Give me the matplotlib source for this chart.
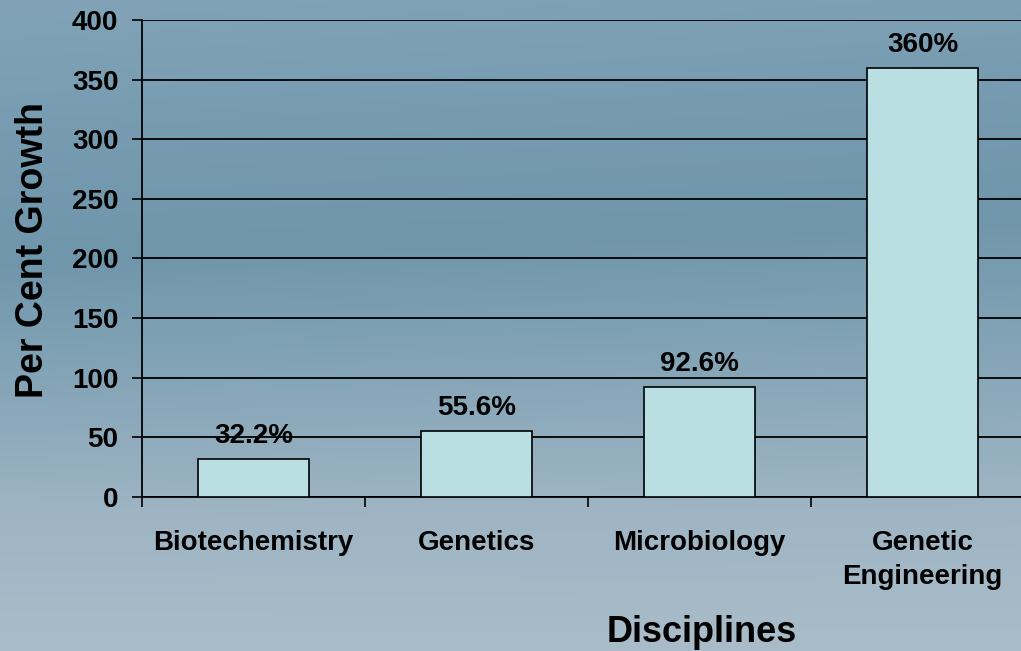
import matplotlib.pyplot as plt
import numpy as np
from matplotlib.colors import LinearSegmentedColormap

disciplines = ["Biotechemistry", "Genetics", "Microbiology", "Genetic\nEngineering"]
growth = [32.2, 55.6, 92.6, 360]
value_labels = ["32.2%", "55.6%", "92.6%", "360%"]

plt.rcParams["font.family"] = ["Liberation Sans", "DejaVu Sans"]
plt.rcParams["font.weight"] = "bold"

fig = plt.figure(figsize=(10.21, 6.51), dpi=100)

# slide-like background gradient
bg = fig.add_axes([0, 0, 1, 1], zorder=0)
bg.axis("off")
cmap = LinearSegmentedColormap.from_list(
    "slide", ["#a9bcc9", "#9fb5c4", "#86a6b8", "#7096ab", "#779cb1", "#82a3b7"])
yy = np.linspace(0, 1, 300)[:, None]
xx = np.linspace(0, 1, 300)[None, :]
grad = np.clip(yy * 0.9 + 0.1 * (1 - xx) * yy, 0, 1)
bg.imshow(grad, cmap=cmap, aspect="auto", extent=[0, 1, 0, 1], origin="lower")
bg.set_xlim(0, 1)
bg.set_ylim(0, 1)

ax = fig.add_axes([0.1391, 0.2366, 0.8737, 0.7327], zorder=1)
ax.patch.set_alpha(0)

x = np.arange(len(disciplines))
ax.bar(x, growth, width=0.5, color="#b9dfe3", edgecolor="black", linewidth=1.2, zorder=3)
for xi, v, lab in zip(x, growth, value_labels):
    ax.annotate(lab, (xi, v), xytext=(0, 7), textcoords="offset points",
                ha="center", va="bottom", fontsize=20, fontweight="bold")

ax.set_xlim(-0.5, len(disciplines) - 0.5)
ax.set_ylim(0, 400)
ax.set_yticks(np.arange(0, 401, 50))
ax.yaxis.grid(True, color="black", linewidth=1.3, zorder=0)
ax.set_axisbelow(True)

ax.set_xticks(x)
ax.set_xticklabels(disciplines, fontsize=20, fontweight="bold", linespacing=1.4)
ax.set_xticks(np.arange(-0.5, len(disciplines)), minor=True)
ax.tick_params(axis="x", which="major", length=0, pad=24)
ax.tick_params(axis="x", which="minor", length=7, width=1.2, color="black")
ax.tick_params(axis="y", length=7, width=1.2, labelsize=20, pad=10)
for t in ax.get_yticklabels():
    t.set_fontweight("bold")

for s in ["top", "right"]:
    ax.spines[s].set_visible(False)
ax.spines["left"].set_linewidth(1.3)
ax.spines["bottom"].set_linewidth(1.3)

fig.text(0.032, 0.616, "Per Cent Growth", rotation=90, ha="center", va="center",
         fontsize=27, fontweight="bold")
fig.text(0.687, 0.029, "Disciplines", ha="center", va="center",
         fontsize=26, fontweight="bold")

fig.savefig("out.png", dpi=100)
